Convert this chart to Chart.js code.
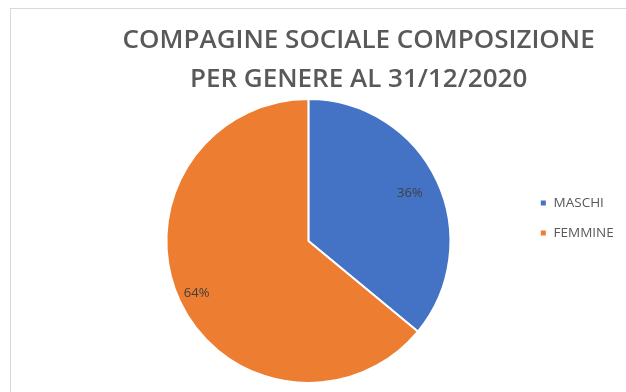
<!DOCTYPE html>
<html>
<head>
<meta charset="utf-8">
<script src="https://cdn.jsdelivr.net/npm/chart.js@4/dist/chart.umd.min.js"></script>
<style>
  html, body { margin: 0; padding: 0; background: #ffffff; }
  #wrap { position: relative; width: 626px; height: 392px; overflow: hidden; }
  #frame { position: absolute; left: 10px; top: 8px; width: 700px; height: 500px;
           border-left: 1px solid #d9d9d9; border-top: 1px solid #d9d9d9; box-sizing: border-box; }
  canvas { position: absolute; left: 0; top: 0; }
</style>
</head>
<body>
<div id="wrap">
  <div id="frame"></div>
  <canvas id="c" width="626" height="392"></canvas>
</div>
<script>
const titleLines = ['COMPAGINE SOCIALE COMPOSIZIONE', 'PER GENERE AL 31/12/2020'];
const categories = ['MASCHI', 'FEMMINE'];
const values = [36, 64];
const sliceColors = ['#4472C4', '#ED7D31'];

const pctLabels = {
  id: 'pctLabels',
  afterDatasetsDraw(chart, args, opts) {
    const ctx = chart.ctx;
    const meta = chart.getDatasetMeta(0);
    const data = chart.data.datasets[0].data;
    const total = data.reduce((a, b) => a + b, 0);
    ctx.save();
    ctx.font = opts.font;
    ctx.fillStyle = opts.color;
    ctx.textAlign = 'center';
    ctx.textBaseline = 'middle';
    meta.data.forEach((arc, i) => {
      const p = arc.getProps(['x', 'y', 'startAngle', 'endAngle', 'outerRadius'], true);
      const mid = (p.startAngle + p.endAngle) / 2;
      const r = p.outerRadius * opts.radii[i];
      const txt = Math.round(data[i] / total * 100) + '%';
      ctx.fillText(txt, p.x + Math.cos(mid) * r, p.y + Math.sin(mid) * r);
    });
    ctx.restore();
  }
};

new Chart(document.getElementById('c'), {
  type: 'pie',
  data: {
    labels: categories,
    datasets: [{
      data: values,
      backgroundColor: sliceColors,
      borderColor: '#ffffff',
      borderWidth: 2
    }]
  },
  options: {
    responsive: false,
    animation: false,
    radius: 142,
    layout: { padding: { left: 93.5, right: 2.25, top: 0, bottom: 9 } },
    plugins: {
      title: {
        display: true,
        text: titleLines,
        color: '#595959',
        font: { family: '"Open Sans", sans-serif', size: 26, weight: '600', lineHeight: 1.5 },
        padding: { top: 21, bottom: 0 }
      },
      legend: {
        position: 'right',
        align: 'start',
        title: { display: true, text: ' ', font: { size: 12, lineHeight: 1.2 }, padding: { top: 165.3, bottom: 0 } },
        labels: {
          boxWidth: 7,
          boxHeight: 7,
          padding: 16.5,
          color: '#595959',
          font: { family: '"Open Sans", sans-serif', size: 13.5 }
        }
      },
      tooltip: { enabled: false },
      pctLabels: {
        font: '13px "Open Sans", sans-serif',
        color: '#404040',
        radii: [0.79, 0.87]
      }
    }
  },
  plugins: [pctLabels]
});
</script>
</body>
</html>
